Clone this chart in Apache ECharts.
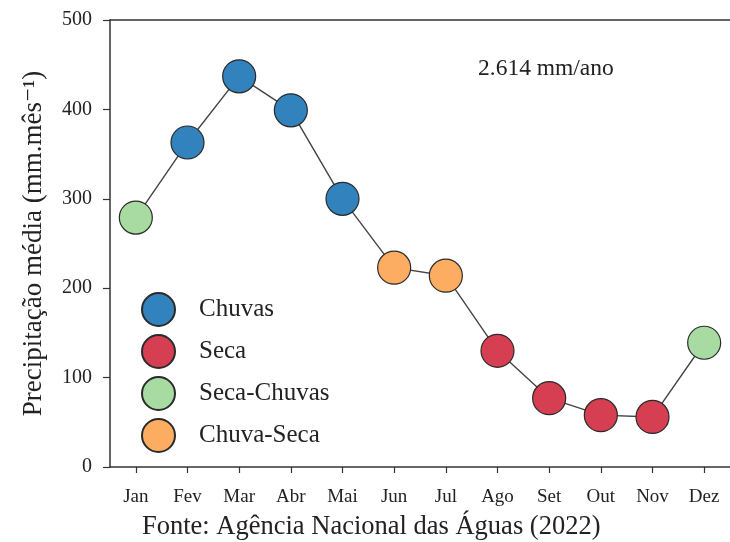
<!DOCTYPE html>
<html>
<head>
<meta charset="utf-8">
<script src="https://cdn.jsdelivr.net/npm/echarts@6/dist/echarts.min.js"></script>
<style>html,body{margin:0;padding:0;background:#fff;}#c{width:730px;height:542px;}</style>
</head>
<body>
<div id="c"></div>
<script>
var months = ['Jan','Fev','Mar','Abr','Mai','Jun','Jul','Ago','Set','Out','Nov','Dez'];
var precip = [279, 363, 437, 399, 300, 223, 214, 130, 77, 58, 56, 139];
var season = ['Seca-Chuvas','Chuvas','Chuvas','Chuvas','Chuvas','Chuva-Seca','Chuva-Seca','Seca','Seca','Seca','Seca','Seca-Chuvas'];
var seasonNames = ['Chuvas','Seca','Seca-Chuvas','Chuva-Seca'];
var seasonColors = ['#3182bd','#d63f51','#a8dba2','#fdad61'];
var yTicks = [0, 100, 200, 300, 400, 500];
var annotation = '2.614 mm/ano';
var sourceText = 'Fonte: Agência Nacional das Águas (2022)';

var FONT = '"Liberation Serif", "DejaVu Serif", serif';

var series = [{
  type: 'line',
  data: precip,
  symbol: 'none',
  lineStyle: {color: '#444', width: 1.4},
  z: 1,
  silent: true
}];
seasonNames.forEach(function (s, i) {
  series.push({
    type: 'scatter',
    name: s,
    data: precip.map(function (v, k) { return season[k] === s ? v : null; }),
    symbol: 'circle',
    symbolSize: 33,
    itemStyle: {color: seasonColors[i], borderColor: '#2a2a2a', borderWidth: 1.2, opacity: 1},
    z: 3
  });
});

var chart = echarts.init(document.getElementById('c'), null, {renderer: 'canvas'});
chart.setOption({
  animation: false,
  backgroundColor: '#fff',
  title: [
    {text: annotation, left: 473, top: 52, textStyle: {fontFamily: FONT, fontSize: 23.5, fontWeight: 'normal', color: '#222'}},
    {text: sourceText, left: 137, top: 509, textStyle: {fontFamily: FONT, fontSize: 26.5, fontWeight: 'normal', color: '#222'}}
  ],
  legend: {
    orient: 'vertical',
    left: 136,
    top: 287,
    itemWidth: 33,
    itemHeight: 33,
    itemGap: 7,
    icon: 'circle',
    data: seasonNames,
    textStyle: {fontFamily: FONT, fontSize: 25, color: '#222', padding: [0, 0, 0, 19]}
  },
  grid: {left: 110, top: 20, width: 623, height: 447, containLabel: false},
  xAxis: [{
    type: 'category',
    data: months,
    boundaryGap: true,
    axisLine: {show: true, lineStyle: {color: '#333', width: 1.5}},
    axisTick: {show: true, alignWithLabel: true, length: 6, lineStyle: {color: '#333', width: 1.2}},
    axisLabel: {fontFamily: FONT, fontSize: 19, color: '#222', margin: 21, interval: 0},
    splitLine: {show: false}
  }, {
    type: 'category',
    data: months,
    position: 'top',
    axisLine: {show: true, lineStyle: {color: '#333', width: 1.5}},
    axisTick: {show: false},
    axisLabel: {show: false}
  }],
  yAxis: {
    type: 'value',
    min: yTicks[0],
    max: yTicks[yTicks.length - 1],
    interval: 100,
    name: 'Precipitação média (mm.mês⁻¹)',
    nameLocation: 'middle',
    nameGap: 63,
    nameTextStyle: {fontFamily: FONT, fontSize: 27, color: '#222'},
    axisLine: {show: true, lineStyle: {color: '#333', width: 1.5}},
    axisTick: {show: true, length: 7, lineStyle: {color: '#333', width: 1.2}},
    axisLabel: {fontFamily: FONT, fontSize: 20, color: '#222', margin: 18},
    splitLine: {show: false}
  },
  series: series
});
</script>
</body>
</html>
